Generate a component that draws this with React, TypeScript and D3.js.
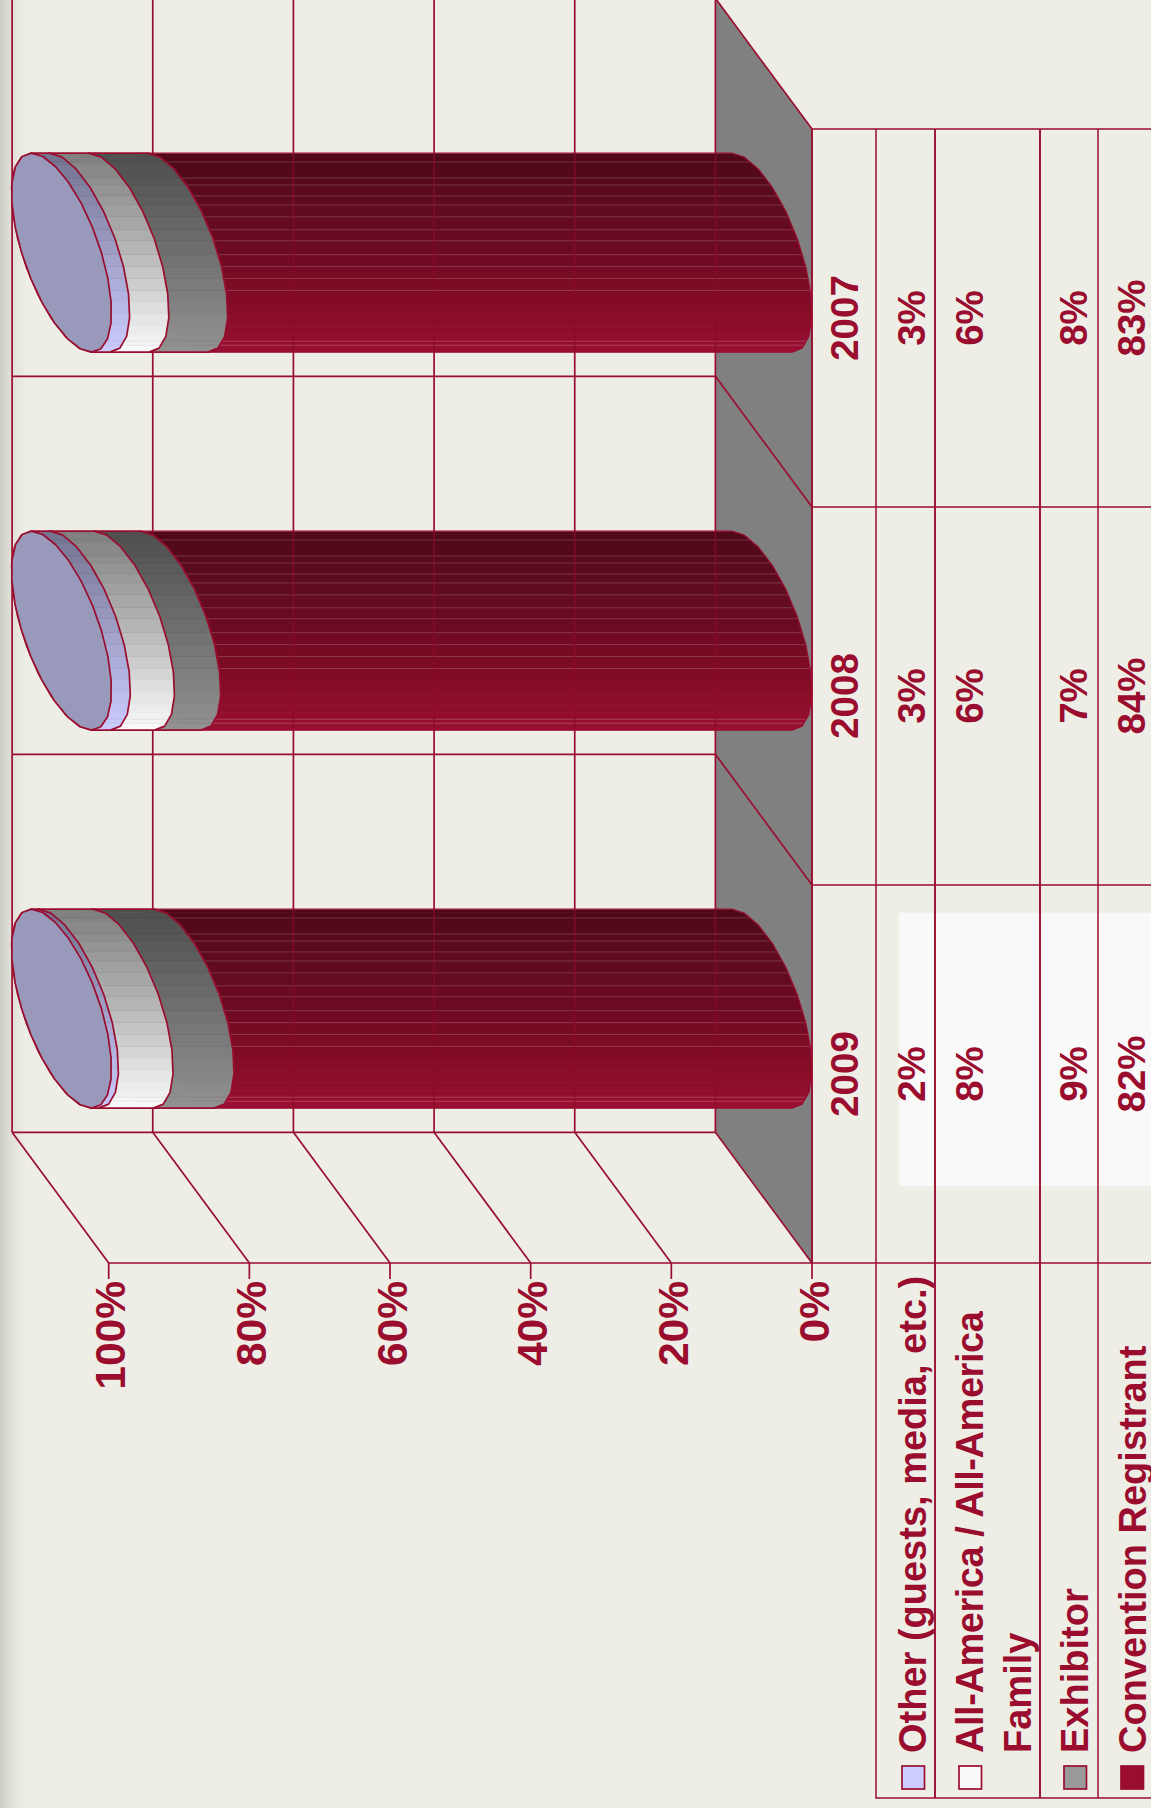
import React from "react";
import * as d3 from "d3";

const years = ["2007", "2008", "2009"];
const seriesNames = ["Convention Registrant", "Exhibitor", "All-America", "Other"];
const conventionValues = [83.4, 84.4, 82.5];
const exhibitorValues = [8.4, 6.6, 8.7];
const allAmericaValues = [5.6, 6.3, 7.8];
const otherValues = [2.6, 2.7, 1.0];
const otherLabels = ["3%", "3%", "2%"];
const allAmericaLabels = ["6%", "6%", "8%"];
const exhibitorLabels = ["8%", "7%", "9%"];
const conventionLabels = ["83%", "84%", "82%"];
const axisTicks = [0, 20, 40, 60, 80, 100];

const LINE = "#9a0d2f";
const BG = "#eeeee6";
const FONT = "'Liberation Sans', Arial, sans-serif";
const W = 1151, H = 1808;

const x0 = 812, x100 = 108.7;
const depthX = 96.6, depthY = 130.7;
const floorTop = 129, floorBottom = 1263, tableBottom = 1798;
const valueX = d3.scaleLinear().domain([0, 100]).range([x0, x100]);
const midX = d3.scaleLinear().domain([0, 100]).range([762, 61.5]);
const yBand = d3.scaleBand<string>().domain(years).range([floorTop, floorBottom]);
const A = 50, B = 99.5, PHI = (37 * Math.PI) / 180;

const ramps: Record<string, d3.ScaleLinear<string, string>> = {
  "Convention Registrant": d3.scaleLinear<string>().domain([0, 0.27, 0.5, 0.68, 0.86, 1]).range(["#4e0818", "#600b20", "#6e0a22", "#7e0b25", "#8c0d2a", "#9a0f32"]),
  Exhibitor: d3.scaleLinear<string>().domain([0, 1]).range(["#4e4e4e", "#929292"]),
  "All-America": d3.scaleLinear<string>().domain([0, 0.5, 1]).range(["#7e7e7e", "#b8b8b8", "#fbfbfb"]),
  Other: d3.scaleLinear<string>().domain([0, 1]).range(["#72728f", "#ccccff"]),
};
const seamFractions = [0, 0.015, 0.044, 0.064, 0.125, 0.16, 0.215, 0.26, 0.32, 0.385, 0.44, 0.51, 0.57, 0.63, 0.69, 0.75, 0.81, 0.87, 0.91, 0.945, 0.965, 1];
const lightSeams = [0.044, 0.125, 0.16, 0.215, 0.26, 0.32, 0.385, 0.44, 0.51, 0.57, 0.63, 0.69, 0.945, 0.965];

const line = d3.line<[number, number]>().curve(d3.curveLinear);

function arc(cx: number, cy: number, from: number, to: number, n = 11): [number, number][] {
  return d3.range(n + 1).map((i) => {
    const u = ((from + ((to - from) * i) / n) * Math.PI) / 180;
    return [cx + A * Math.cos(u - PHI), cy + B * Math.sin(u)] as [number, number];
  });
}

export default function App() {
  const series = [conventionValues, exhibitorValues, allAmericaValues, otherValues];
  const cols = [
    { labels: otherLabels, x: 925 },
    { labels: allAmericaLabels, x: 983 },
    { labels: exhibitorLabels, x: 1087 },
    { labels: conventionLabels, x: 1145 },
  ];
  const tableX = [812, 876, 935, 1040, 1098];
  const rowLines = [floorTop, ...years.map((y) => (yBand(y) as number) + yBand.bandwidth())];
  const rot = (x: number, y: number) => `translate(${x},${y}) rotate(-90)`;
  const SW = 1.7;

  return (
    <svg width={W} height={H} viewBox={`0 0 ${W} ${H}`} style={{ position: "absolute", left: 0, top: 0, display: "block" }} fontFamily={FONT} fontWeight={700}>
      <defs>
        <linearGradient id="edge" x1="0" x2="1" y1="0" y2="0">
          <stop offset="0" stopColor="#cdcdc6" />
          <stop offset="0.4" stopColor="#dfdfd8" />
          <stop offset="1" stopColor={BG} />
        </linearGradient>
      </defs>
      <rect width={W} height={H} fill={BG} />
      <rect width={26} height={H} fill="url(#edge)" />
      <rect x={899} y={912.7} width={252} height={273.3} fill="#f9f9f9" />

      {/* floor */}
      <path d={line([[x0 - depthX, floorBottom - depthY], [x0, floorBottom], [x0, floorTop], [x0 - depthX, floorTop - depthY]]) + "Z"} fill="#808080" />

      {/* back wall */}
      {axisTicks.map((t) => (
        <line key={t} x1={valueX(t) - depthX} x2={valueX(t) - depthX} y1={0} y2={floorBottom - depthY} stroke={LINE} strokeWidth={SW} />
      ))}
      {rowLines.slice(1).map((y) => (
        <line key={y} x1={x100 - depthX} x2={x0 - depthX} y1={y - depthY} y2={y - depthY} stroke={LINE} strokeWidth={SW} />
      ))}
      {/* side diagonals */}
      {axisTicks.map((t) => (
        <line key={t} x1={valueX(t) - depthX} y1={floorBottom - depthY} x2={valueX(t)} y2={floorBottom} stroke={LINE} strokeWidth={SW} />
      ))}
      {rowLines.slice(0, 3).map((y) => (
        <line key={y} x1={x0 - depthX} y1={y - depthY} x2={x0} y2={y} stroke={LINE} strokeWidth={SW} />
      ))}

      {/* cylinders */}
      {years.map((year, yi) => {
        const cy = (yBand(year) as number) + yBand.bandwidth() / 2 - depthY / 2;
        let acc = 0;
        return (
          <g key={year}>
            {seriesNames.map((name, si) => {
              const v = series[si][yi];
              const start = midX(acc);
              acc += v;
              const end = midX(acc);
              const d = line([...arc(start, cy, -90, 90), ...arc(end, cy, 90, 270)]) + "Z";
              const id = `clip-${yi}-${si}`;
              const isConv = si === 0;
              return (
                <g key={name}>
                  <clipPath id={id}><path d={d} /></clipPath>
                  <g clipPath={`url(#${id})`}>
                    {seamFractions.slice(0, -1).map((f, i) => {
                      const f2 = seamFractions[i + 1];
                      return (
                        <rect key={f} x={end - A - 2} width={start - end + 2 * A + 4} y={cy - B + 2 * B * f} height={2 * B * (f2 - f) + 0.6} fill={ramps[name]((f + f2) / 2)} />
                      );
                    })}
                    {lightSeams.map((f) => (
                      <line key={f} x1={end - A} x2={start + A} y1={cy - B + 2 * B * f} y2={cy - B + 2 * B * f} stroke={isConv ? "#ffffff" : "#000000"} strokeOpacity={isConv ? 0.18 : 0.06} strokeWidth={1} />
                    ))}
                    {isConv && axisTicks.map((t) => (
                      <line key={t} x1={valueX(t) - depthX} x2={valueX(t) - depthX} y1={cy - B} y2={cy + B} stroke="#8a0c29" strokeOpacity={0.6} strokeWidth={2} />
                    ))}
                  </g>
                  <path d={d} fill="none" stroke={LINE} strokeWidth={isConv ? 1.2 : 1.7} strokeLinejoin="round" />
                </g>
              );
            })}
            <path d={line(arc(midX(acc), cy, -90, 270, 24)) + "Z"} fill="#9999bb" stroke={LINE} strokeWidth={1.7} strokeLinejoin="round" />
          </g>
        );
      })}

      {/* front axis & table */}
      <line x1={x100} x2={W} y1={floorBottom} y2={floorBottom} stroke={LINE} strokeWidth={SW} />
      {axisTicks.map((t) => (
        <line key={t} x1={valueX(t)} x2={valueX(t)} y1={floorBottom} y2={floorBottom + 16} stroke={LINE} strokeWidth={SW} />
      ))}
      {rowLines.slice(0, 3).map((y) => (
        <line key={y} x1={x0} x2={W} y1={y} y2={y} stroke={LINE} strokeWidth={SW} />
      ))}
      {tableX.map((x, i) => (
        <line key={x} x1={x} x2={x} y1={floorTop} y2={i === 0 ? floorBottom : tableBottom} stroke={LINE} strokeWidth={i === 0 || i === 2 || i === 3 ? 1.9 : 1.5} />
      ))}
      <line x1={875.5} x2={W} y1={tableBottom} y2={tableBottom} stroke={LINE} strokeWidth={SW} />

      {/* text */}
      <g fill={LINE} fontSize={38.5}>
        {axisTicks.map((t) => (
          <text key={t} transform={rot(valueX(t) + 16.5, 1281)} textAnchor="end" fontSize={42.5}>{t}%</text>
        ))}
        {years.map((y) => {
          const c = (yBand(y) as number) + yBand.bandwidth() / 2;
          return (
            <g key={y}>
              <text transform={rot(858, c)} textAnchor="middle">{y}</text>
              {cols.map((col) => (
                <text key={col.x} transform={rot(col.x, c)} textAnchor="middle">{col.labels[years.indexOf(y)]}</text>
              ))}
            </g>
          );
        })}
        <g fontSize={38}>
          <text transform={rot(926, 1753)}>Other (guests, media, etc.)</text>
          <text transform={rot(983, 1753)} letterSpacing={-0.45}>All-America / All-America</text>
          <text transform={rot(1030.7, 1753)}>Family</text>
          <text transform={rot(1088, 1753)}>Exhibitor</text>
          <text transform={rot(1146, 1753)}>Convention Registrant</text>
        </g>
      </g>

      {/* legend keys */}
      {[
        { x: 902, fill: "#ccccff" },
        { x: 959, fill: "#f9f9f9" },
        { x: 1064, fill: "#999999" },
        { x: 1121, fill: LINE },
      ].map((k) => (
        <rect key={k.x} x={k.x} y={1766} width={22.5} height={23} fill={k.fill} stroke={LINE} strokeWidth={SW} />
      ))}
    </svg>
  );
}
